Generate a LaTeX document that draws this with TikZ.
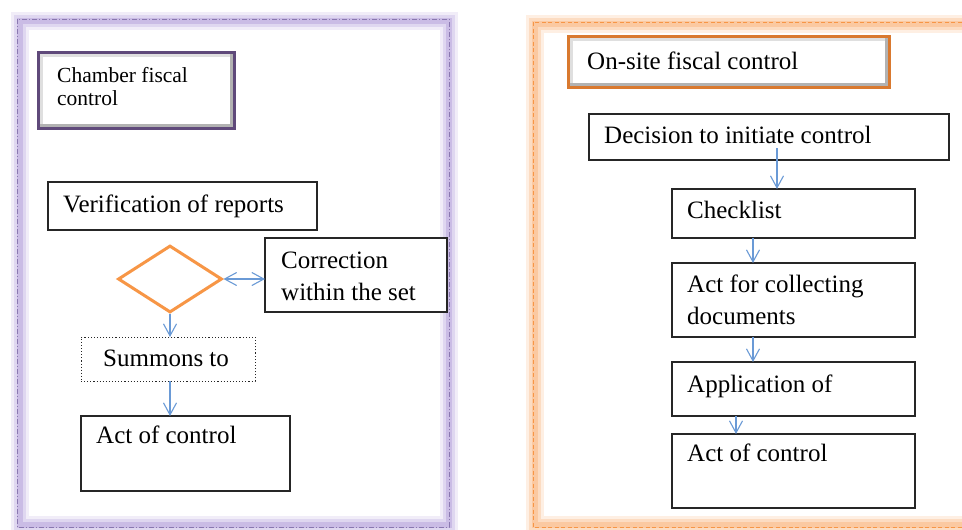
\documentclass[tikz,border=0pt]{standalone}
\usepackage{fontspec}
\setmainfont{Liberation Serif}
\usetikzlibrary{arrows.meta,shapes.geometric}
\definecolor{lav}{HTML}{B9A6DD}
\definecolor{lavline}{HTML}{8A78B0}
\definecolor{ttlpurple}{HTML}{5F497A}
\definecolor{glowor}{HTML}{FAC090}
\definecolor{orline}{HTML}{F79646}
\definecolor{ttlorange}{HTML}{D9792F}
\definecolor{dorange}{HTML}{F79646}
\definecolor{ablue}{HTML}{6A9AD6}
\begin{document}
\begin{tikzpicture}[x=1pt,y=-1pt,
  box/.style={draw=black!85, line width=1.1pt, fill=white, anchor=north west, inner sep=0, outer sep=0},
  txt/.style={anchor=base west, inner sep=0, align=left, font=\fontsize{25}{32}\selectfont},
  ttltxt/.style={anchor=base west, inner sep=0, align=left},
  arr/.style={draw=ablue, line width=1.1pt, -{Straight Barb[length=12pt,width=13pt]}},
  darr/.style={draw=ablue, line width=1.1pt, {Straight Barb[length=12pt,width=13pt]}-{Straight Barb[length=12pt,width=13pt]}}
]
\useasboundingbox (0,0) rectangle (962,530);
\fill[white] (0,0) rectangle (962,530);
% left frame glow
\draw[lav!20, line width=18pt] (20,21) rectangle (449,525);
\draw[lav!45, line width=12pt] (20,21) rectangle (449,525);
\draw[lav!75, line width=6pt] (20,21) rectangle (449,525);
\draw[lavline, line width=0.8pt, dash pattern=on 5pt off 2pt on 1pt off 2pt] (17,19) rectangle (449,527);
% right frame glow
\draw[glowor!25, line width=18pt] (535,24) rectangle (985,525);
\draw[glowor!55, line width=12pt] (535,24) rectangle (985,525);
\draw[glowor!85, line width=6pt] (535,24) rectangle (985,525);
\draw[orline, line width=0.8pt, dash pattern=on 4pt off 2.5pt] (533,22) rectangle (980,527);
% left title
\node[draw=ttlpurple, line width=3pt, fill=gray!60, minimum width=196pt, minimum height=76pt, anchor=north west, inner sep=0] (t1) at (37,51) {};
\fill[gray!25] ([shift={(3,3)}]t1.north west) rectangle ([shift={(-6,-6)}]t1.south east);
\fill[white] ([shift={(6,6)}]t1.north west) rectangle ([shift={(-6,-6)}]t1.south east);
\node[ttltxt, font=\fontsize{21.5}{23}\selectfont] (t1txt) at (57,105) {Chamber fiscal\\control};
% right title
\node[draw=ttlorange, line width=3pt, fill=gray!60, minimum width=321pt, minimum height=51pt, anchor=north west, inner sep=0] (t2) at (567,35) {};
\fill[gray!25] ([shift={(3,3)}]t2.north west) rectangle ([shift={(-6,-6)}]t2.south east);
\fill[white] ([shift={(6,6)}]t2.north west) rectangle ([shift={(-6,-6)}]t2.south east);
\node[txt] (t2txt) at (587,69) {On-site fiscal control};
% left flow
\node[box, minimum width=269pt, minimum height=48pt] (ver) at (48,182) {};
\node[txt] (vertxt) at (63,212) {Verification of reports};
\node[box, minimum width=182pt, minimum height=74pt] (cor) at (265,238) {};
\node[txt] (cortxt) at (281,300) {Correction\\within the set};
\node[diamond, draw=dorange, line width=3pt, minimum width=104pt, minimum height=67pt, aspect=1.55, inner sep=0] (dia) at (170,279) {};
\node[box, dotted, line width=1pt, minimum width=174pt, minimum height=44pt] (sum) at (81,337) {};
\node[txt] (sumtxt) at (103,366) {Summons to};
\node[box, minimum width=209pt, minimum height=75pt] (act) at (81,416) {};
\node[txt] (acttxt) at (96,443) {Act of control};
\draw[darr] (dia.east) -- (dia.east -| cor.west);
\draw[arr] (dia.south) -- (sum.north -| dia.south);
\draw[arr] (sum.south -| dia.south) -- (act.north -| dia.south);
% right flow
\node[box, minimum width=360pt, minimum height=46pt] (dec) at (589,114) {};
\node[txt] (dectxt) at (604,143) {Decision to initiate control};
\node[box, minimum width=243pt, minimum height=49pt] (chk) at (672,189) {};
\node[txt] (chktxt) at (687,218) {Checklist};
\node[box, minimum width=243pt, minimum height=74pt] (col) at (672,263) {};
\node[txt] (coltxt) at (687,324) {Act for collecting\\documents};
\node[box, minimum width=243pt, minimum height=54pt] (app) at (672,362) {};
\node[txt] (apptxt) at (687,392) {Application of};
\node[box, minimum width=243pt, minimum height=74pt] (act2) at (672,434) {};
\node[txt] (act2txt) at (687,461) {Act of control};
\coordinate (d1) at (777,148);
\coordinate (xa) at (753,0);
\coordinate (xb) at (736,0);
\draw[arr] (d1) -- (chk.north -| d1);
\draw[arr] (chk.south -| xa) -- (col.north -| xa);
\draw[arr] (col.south -| xa) -- (app.north -| xa);
\draw[arr] (app.south -| xb) -- (act2.north -| xb);
\end{tikzpicture}
\end{document}
